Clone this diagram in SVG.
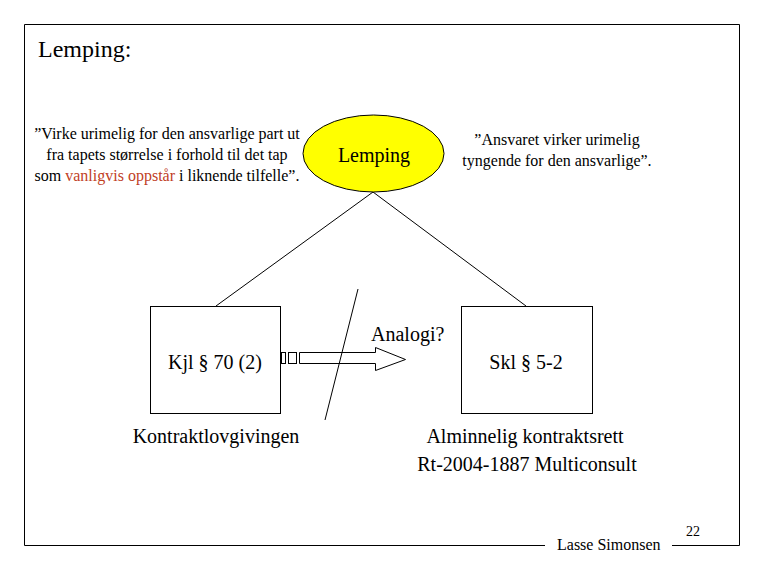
<svg xmlns="http://www.w3.org/2000/svg" width="765" height="570" viewBox="0 0 765 570" font-family="'Liberation Serif', 'DejaVu Serif', serif">
<style>
text{fill:#000}
.s14{font-size:16px}
.s18{font-size:20px}
.ln{stroke:#000;stroke-width:1;fill:none}
</style>
<rect width="765" height="570" fill="#fff"/>
<g id="frame">
<path class="ln" d="M545,545.5 H24.5 V24.5 H739.5 V545.5 H672"/>
<text x="38" y="57" style="font-size:24px">Lemping:</text>
<text x="557" y="550" class="s14">Lasse Simonsen</text>
<text x="686" y="536" style="font-size:14px">22</text>
</g>
<g id="connectors">
<line class="ln" x1="373" y1="192" x2="216" y2="306"/>
<line class="ln" x1="373" y1="192" x2="526" y2="306"/>
</g>
<g id="lemping">
<ellipse cx="373.5" cy="153.5" rx="70.5" ry="38.5" fill="#ffff00" stroke="#000"/>
<text x="374" y="162" class="s18" text-anchor="middle">Lemping</text>
</g>
<g id="quote-left">
<text x="167" y="139" class="s14" text-anchor="middle">”Virke urimelig for den ansvarlige part ut</text>
<text x="167" y="160" class="s14" text-anchor="middle">fra tapets størrelse i forhold til det tap</text>
<text x="167" y="181" class="s14" text-anchor="middle">som <tspan fill="#c0401f">vanligvis oppstår</tspan> i liknende tilfelle”.</text>
</g>
<g id="quote-right">
<text x="557" y="145" class="s14" text-anchor="middle">”Ansvaret virker urimelig</text>
<text x="557" y="166" class="s14" text-anchor="middle">tyngende for den ansvarlige”.</text>
</g>
<g id="kjl">
<rect x="150.5" y="306.5" width="130" height="107" fill="#fff" stroke="#000"/>
<text x="215" y="369" class="s18" text-anchor="middle">Kjl § 70 (2)</text>
<text x="216" y="443" class="s18" text-anchor="middle">Kontraktlovgivingen</text>
</g>
<g id="skl">
<rect x="461.5" y="306.5" width="131" height="107" fill="#fff" stroke="#000"/>
<text x="526" y="369" class="s18" text-anchor="middle">Skl § 5-2</text>
<text x="525" y="443" class="s18" text-anchor="middle">Alminnelig kontraktsrett</text>
<text x="527" y="471" class="s18" text-anchor="middle">Rt-2004-1887 Multiconsult</text>
</g>
<g id="analogi">
<rect x="281.5" y="352.5" width="4" height="11" fill="#fff" stroke="#000"/>
<rect x="288.5" y="352.5" width="8" height="11" fill="#fff" stroke="#000"/>
<path d="M299.5,352.5 H375.5 V347.5 L405.5,359.5 L375.5,370.5 V363.5 H299.5 Z" fill="#fff" stroke="#000"/>
<text x="371" y="341" class="s18">Analogi?</text>
</g>
<line class="ln" x1="358" y1="289" x2="325" y2="420"/>
</svg>
